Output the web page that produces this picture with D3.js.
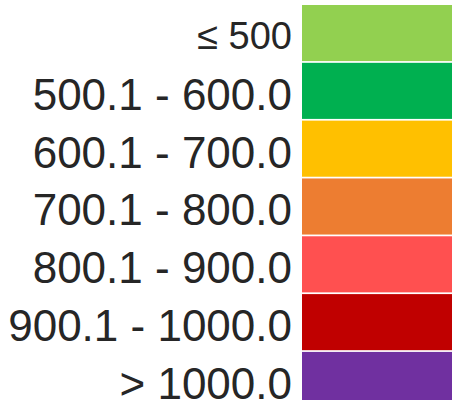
<!doctype html>
<html>
<head>
    <title>Legend</title>
    <script src="https://cdnjs.cloudflare.com/ajax/libs/d3/7.8.5/d3.min.js"></script>
    <style>
        body { margin: 0; background: #fff; }
    </style>
</head>
<body>
    <svg width="455" height="400"></svg>
    <script>
        // legend classes
        var labels = ["\u2264 500", "500.1 - 600.0", "600.1 - 700.0", "700.1 - 800.0",
            "800.1 - 900.0", "900.1 - 1000.0", "> 1000.0"];
        var colors = ["#92D050", "#00B050", "#FFC000", "#ED7D31", "#FF5050", "#C00000", "#7030A0"];

        var svg = d3.select("svg");

        var yScale = d3.scaleBand()
            .domain(labels)
            .range([5, 408])
            .paddingInner(0.03);

        var color = d3.scaleOrdinal().domain(labels).range(colors);

        var g = svg.append("g");

        g.selectAll(".swatch")
            .data(labels)
            .enter().append("rect")
            .attr("class", "swatch")
            .attr("x", 302)
            .attr("y", function (d) { return yScale(d); })
            .attr("width", 150)
            .attr("height", yScale.bandwidth())
            .style("fill", function (d) { return color(d); });

        // first label is set a bit smaller
        function fontSize(i) { return i == 0 ? 38 : 44; }

        g.selectAll(".label")
            .data(labels)
            .enter().append("text")
            .attr("class", "label")
            .attr("x", 292)
            .attr("y", function (d, i) {
                return yScale(d) + yScale.bandwidth() / 2 + fontSize(i) * 0.43;
            })
            .attr("text-anchor", "end")
            .style("font-family", "'Liberation Sans', Arial, sans-serif")
            .style("font-size", function (d, i) { return fontSize(i) + "px"; })
            .style("fill", "#262626")
            .text(function (d) { return d; });
    </script>
</body>
</html>
